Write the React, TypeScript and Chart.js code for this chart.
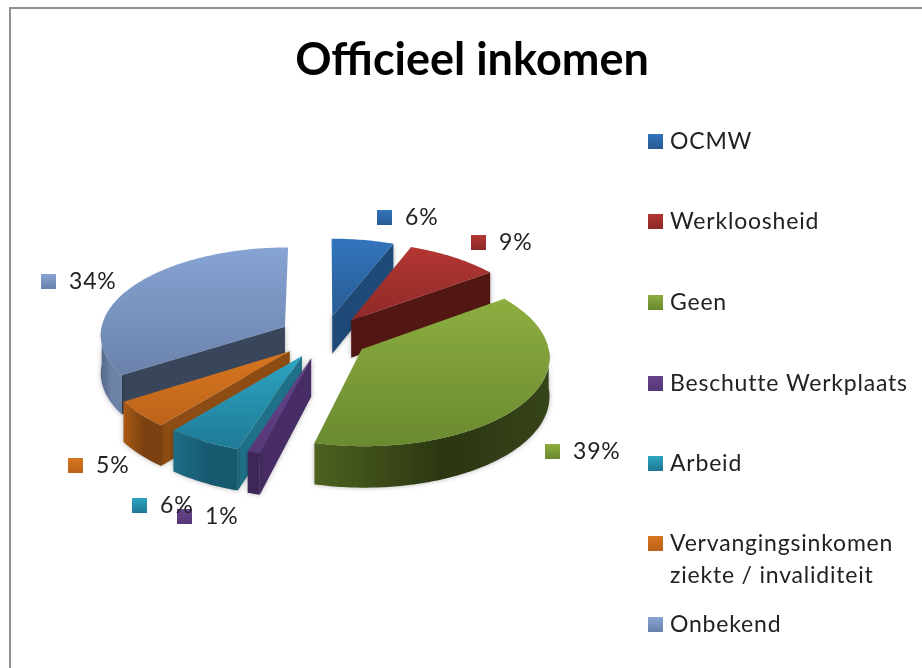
import React, { useEffect, useRef } from "react";
import { Chart, registerables } from "chart.js";

Chart.register(...registerables);

const categories = ["OCMW", "Werkloosheid", "Geen", "Beschutte Werkplaats", "Arbeid", "Vervangingsinkomen ziekte / invaliditeit", "Onbekend"];
const legendLines = [["OCMW"], ["Werkloosheid"], ["Geen"], ["Beschutte Werkplaats"], ["Arbeid"], ["Vervangingsinkomen", "ziekte / invaliditeit"], ["Onbekend"]];
const shares = [6, 9, 39, 1, 6, 5, 34];

const topLight = ["#3274bc", "#b33632", "#8cae40", "#66438c", "#2da5c2", "#d6761f", "#88a4d4"];
const topDark = ["#285c94", "#8e2a27", "#6a8a2f", "#573878", "#1f7a96", "#bd631a", "#6a82ab"];
const radialWall = ["#1f4a78", "#521613", "#3c4a18", "#472c66", "#1f7189", "#8c4c14", "#39455a"];
const outerA = ["#1f4a78", "#7a2320", "#4d6120", "#3e2659", "#1c6d85", "#a95a15", "#566889"];
const outerB = ["#1a3f66", "#521613", "#2b3611", "#3e2659", "#175a70", "#7c4110", "#6d83a8"];
const outerC = ["#1a3f66", "#521613", "#36441a", "#3e2659", "#175a70", "#7c4110", "#6d83a8"];

const labelSpots = [[377, 217], [471, 242], [545, 451], [177, 516], [132, 505], [68, 465], [41, 281]];
const legendRows = [141, 221, 302, 383, 463, 543, 624];

const CX = 324, CY = 337, EXPLODE = 45, SQUASH = 0.476, PERSPECTIVE = 0.08, DEPTH = 38, RADIUS = 185;
const TEXT = "#222222";
const FONT = "23px Lato";

const pie3d = {
  id: "pie3d",
  beforeDatasetsDraw(chart: any) {
    const ctx: CanvasRenderingContext2D = chart.ctx;
    const arcs: any[] = chart.getDatasetMeta(0).data;
    const project = (u: number, v: number, z: number) => {
      const f = 1 + (PERSPECTIVE * v) / RADIUS;
      return [CX + u * f, CY + SQUASH * v * f + z * f];
    };
    const order = arcs
      .map((a, i) => ({ a, i, mid: (a.startAngle + a.endAngle) / 2 }))
      .sort((p, q) => Math.sin(p.mid) - Math.sin(q.mid));

    for (const { a, i, mid } of order) {
      const r = a.outerRadius;
      const ex = Math.cos(mid) * EXPLODE, ey = Math.sin(mid) * EXPLODE;
      const rim = (t: number, z: number) => project(ex + r * Math.cos(t), ey + r * Math.sin(t), z);
      const apex = (z: number) => project(ex, ey, z);
      const poly = (pts: number[][]) => {
        ctx.beginPath();
        pts.forEach((p, k) => (k ? ctx.lineTo(p[0], p[1]) : ctx.moveTo(p[0], p[1])));
        ctx.closePath();
      };
      const steps = Math.max(4, Math.ceil((a.endAngle - a.startAngle) * 60));
      const topPts: number[][] = [apex(0)];
      for (let s = 0; s <= steps; s++) topPts.push(rim(a.startAngle + ((a.endAngle - a.startAngle) * s) / steps, 0));

      ctx.save();
      ctx.shadowColor = "rgba(0,0,0,0.3)";
      ctx.shadowBlur = 5;
      if (-Math.cos(a.startAngle) > 0) {
        poly([apex(0), rim(a.startAngle, 0), rim(a.startAngle, DEPTH), apex(DEPTH)]);
        ctx.fillStyle = radialWall[i];
        ctx.fill();
      }
      if (Math.cos(a.endAngle) > 0) {
        poly([apex(0), rim(a.endAngle, 0), rim(a.endAngle, DEPTH), apex(DEPTH)]);
        ctx.fillStyle = radialWall[i];
        ctx.fill();
      }
      // outer wall on the part of the rim that faces the viewer
      const lo = Math.max(a.startAngle, 0), hi = Math.min(a.endAngle, Math.PI);
      if (hi > lo) {
        const n = Math.max(4, Math.ceil((hi - lo) * 60));
        const pts: number[][] = [];
        for (let s = 0; s <= n; s++) pts.push(rim(lo + ((hi - lo) * s) / n, 0));
        for (let s = n; s >= 0; s--) pts.push(rim(lo + ((hi - lo) * s) / n, DEPTH));
        const x0 = Math.min(...pts.map((p) => p[0])), x1 = Math.max(...pts.map((p) => p[0]));
        const g = ctx.createLinearGradient(x0, 0, x1, 0);
        g.addColorStop(0, outerA[i]);
        g.addColorStop(0.55, outerB[i]);
        g.addColorStop(1, outerC[i]);
        poly(pts);
        ctx.fillStyle = g;
        ctx.fill();
      }
      ctx.restore();

      const ys = topPts.map((p) => p[1]);
      const g = ctx.createLinearGradient(0, Math.min(...ys), 0, Math.max(...ys));
      g.addColorStop(0, topLight[i]);
      g.addColorStop(1, topDark[i]);
      poly(topPts);
      ctx.fillStyle = g;
      ctx.fill();
    }

    ctx.save();
    ctx.font = FONT;
    (ctx as any).letterSpacing = "0.8px";
    ctx.textBaseline = "middle";
    const marker = (x: number, y: number, i: number) => {
      const g = ctx.createLinearGradient(0, y - 7, 0, y + 7);
      g.addColorStop(0, topLight[i]);
      g.addColorStop(1, topDark[i]);
      ctx.fillStyle = g;
      ctx.fillRect(x, y - 7, 15, 15);
    };
    const total = shares.reduce((s, v) => s + v, 0);
    shares.forEach((v, i) => {
      const [x, y] = labelSpots[i];
      marker(x, y, i);
      ctx.fillStyle = TEXT;
      ctx.fillText(`${Math.round((v / total) * 100)}%`, x + 28, y + 1);
    });
    categories.forEach((_, i) => {
      marker(648, legendRows[i], i);
      ctx.fillStyle = TEXT;
      legendLines[i].forEach((line, l) => ctx.fillText(line, 670, legendRows[i] + 1 + l * 32));
    });
    ctx.restore();
    return false;
  },
};

export default function App() {
  const ref = useRef<HTMLCanvasElement>(null);
  useEffect(() => {
    const chart = new Chart(ref.current!, {
      type: "pie",
      data: {
        labels: categories,
        datasets: [{ data: shares, backgroundColor: topLight, borderWidth: 0 }],
      },
      options: {
        responsive: false,
        animation: false,
        radius: RADIUS,
        layout: { padding: { left: 22 } },
        plugins: {
          legend: { display: false },
          tooltip: { enabled: false },
          title: {
            display: true,
            text: "Officieel inkomen",
            color: "#000000",
            font: { family: "Lato", size: 45, weight: "bold" },
            padding: { top: 33, bottom: 0 },
          },
        },
      },
      plugins: [pie3d],
    } as any);
    return () => chart.destroy();
  }, []);
  return (
    <div style={{ position: "fixed", left: 0, top: 0, width: 922, height: 668, background: "#fff", overflow: "hidden" }}>
      <div style={{ position: "absolute", left: 9, top: 7, right: 0, bottom: 0, borderTop: "2px solid #929292", borderLeft: "2px solid #929292" }} />
      <canvas ref={ref} width={922} height={668} style={{ position: "absolute", left: 0, top: 0 }} />
    </div>
  );
}
